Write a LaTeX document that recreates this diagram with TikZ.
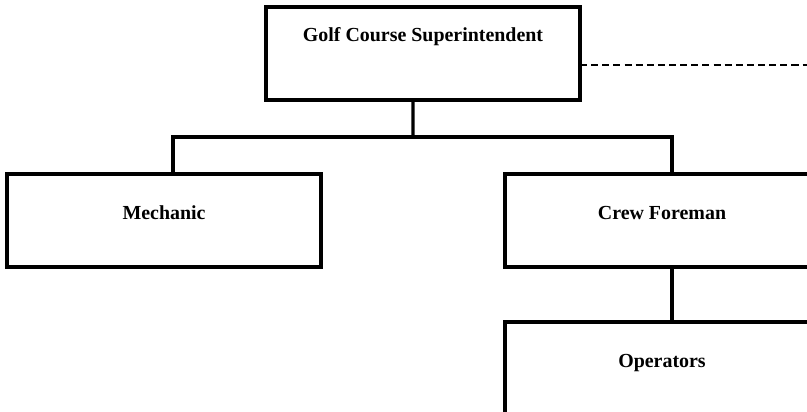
\documentclass[tikz,border=0pt]{standalone}
\usepackage{fontspec}
\setmainfont{Liberation Serif}
\usetikzlibrary{positioning}
\tikzset{
    org-box/.style = {draw=black, line width=2.8pt, rectangle, inner sep=0pt, outer sep=0pt, minimum width=9.42cm, text height=1.365cm, text depth=1.425cm, font=\fontsize{17}{20}\selectfont\bfseries},
    org-box-top/.style = {org-box, text height=1.035cm, text depth=1.755cm},
    org-line/.style = {draw=black, line width=2.8pt},
    org-link/.style = {draw=black, line width=1.7pt, dash pattern=on 6pt off 3.5pt},
}
\begin{document}
\begin{tikzpicture}[x=0.03cm, y=-0.03cm]
\clip (0,0) rectangle (807,411);
\node[org-box-top, anchor=north west] (super) at (266,7) {Golf Course Superintendent};
\node[org-box, anchor=north west] (mech) at (7,174) {Mechanic};
\node[org-box, anchor=north west] (crew) at (505,174) {Crew Foreman};
\node[org-box, below=1.65cm of crew] (ops) {Operators};
\coordinate (split) at (413,137);
\coordinate (staff) at (807,65);
\draw[org-line] ([xshift=-0.3cm]super.south) -- (split);
\draw[org-line] ([xshift=0.27cm]mech.north) |- (split) -| ([xshift=0.3cm]crew.north);
\draw[org-line] ([xshift=0.3cm]crew.south) -- ([xshift=0.3cm]ops.north);
\draw[org-link] (super.east |- staff) -- (staff);
\end{tikzpicture}
\end{document}
